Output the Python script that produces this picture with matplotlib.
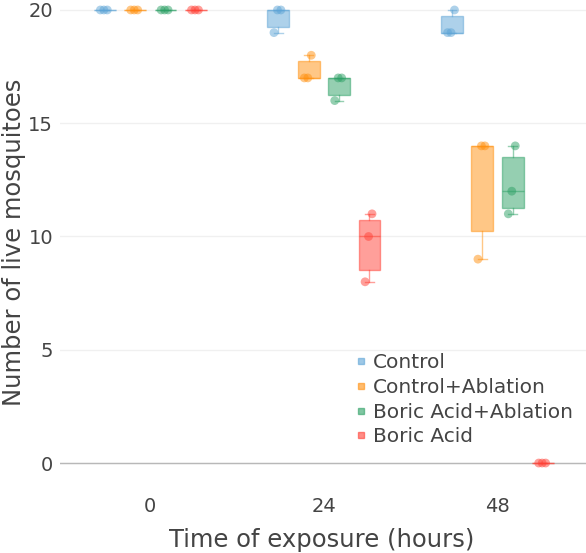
import numpy as np
import matplotlib
matplotlib.use("Agg")
import matplotlib.pyplot as plt
from matplotlib.lines import Line2D

# survival counts, 3 replicates per group and time point
times = ["0", "24", "48"]
groups = ["Control", "Control+Ablation", "Boric Acid+Ablation", "Boric Acid"]
control = [[20, 20, 20], [19, 20, 20], [19, 19, 20]]
control_abl = [[20, 20, 20], [17, 17, 18], [9, 14, 14]]
boric_abl = [[20, 20, 20], [16, 17, 17], [11, 12, 14]]
boric = [[20, 20, 20], [8, 10, 11], [0, 0, 0]]
series = [control, control_abl, boric_abl, boric]

colors = [(93/255, 164/255, 214/255), (1.0, 144/255, 14/255),
          (44/255, 160/255, 101/255), (1.0, 65/255, 54/255)]

def box_stats(vals):
    v = np.sort(np.asarray(vals, float))
    q1, med, q3 = np.percentile(v, [25, 50, 75], method="hazen")
    iqr = q3 - q1
    lo = v[v >= q1 - 1.5 * iqr].min()
    hi = v[v <= q3 + 1.5 * iqr].max()
    return dict(med=med, q1=q1, q3=q3, whislo=lo, whishi=hi, fliers=[])

fig = plt.figure(figsize=(5.86, 5.53), dpi=100)
ax = fig.add_axes([60/586, 68/553, 526/586, 485/553])

offsets = [-0.2625, -0.0875, 0.0875, 0.2625]
width = 0.125
for g, data in enumerate(series):
    c = colors[g]
    for t, vals in enumerate(data):
        pos = t + offsets[g]
        st = box_stats(vals)
        ax.bxp([st], positions=[pos], widths=width, patch_artist=True,
               showfliers=False, manage_ticks=False,
               boxprops=dict(facecolor=c + (0.5,), edgecolor=c + (0.5,), linewidth=1),
               medianprops=dict(color=c + (0.5,), linewidth=1),
               whiskerprops=dict(color=c + (0.5,), linewidth=1),
               capprops=dict(color=c + (0.5,), linewidth=1),
               capwidths=width * 0.4)
        jit = np.linspace(-0.025, 0.015, len(vals))
        ax.scatter(pos + jit, np.sort(vals), s=40, color=c, alpha=0.5,
                   edgecolors="none", zorder=3)

ax.set_xlim(-0.52, 2.51)
ax.set_ylim(-0.97, 20.44)
ax.set_xticks(range(len(times)))
ax.set_xticklabels(times)
ax.set_yticks([0, 5, 10, 15, 20])
for s in ax.spines.values():
    s.set_visible(False)
ax.tick_params(length=0, labelsize=14, labelcolor="#444444", pad=5)
ax.tick_params(axis="x", pad=9)
ax.grid(axis="y", color="#f0f0f0", linewidth=1)
ax.axhline(0, color="#b8b8b8", linewidth=1, zorder=1.5)
ax.set_axisbelow(True)

ax.set_xlabel("Time of exposure (hours)", fontsize=17.5, color="#444444")
ax.set_ylabel("Number of live mosquitoes", fontsize=17.5, color="#444444")
ax.xaxis.label.set_va("center")
ax.yaxis.label.set_va("center")
ax.xaxis.set_label_coords(0.497, -0.113)
ax.yaxis.set_label_coords(-0.0875, 0.5)

handles = [Line2D([], [], linestyle="none", marker="s", markersize=4,
                  color=c, alpha=0.6) for c in colors]
ax.legend(handles, groups, loc="upper left", bbox_to_anchor=(0.545, 0.288),
          frameon=False, fontsize=14.5, labelcolor="#444444",
          handlelength=0.6, handletextpad=0.3, labelspacing=0.28,
          borderaxespad=0)

plt.savefig("out.png", dpi=100)
